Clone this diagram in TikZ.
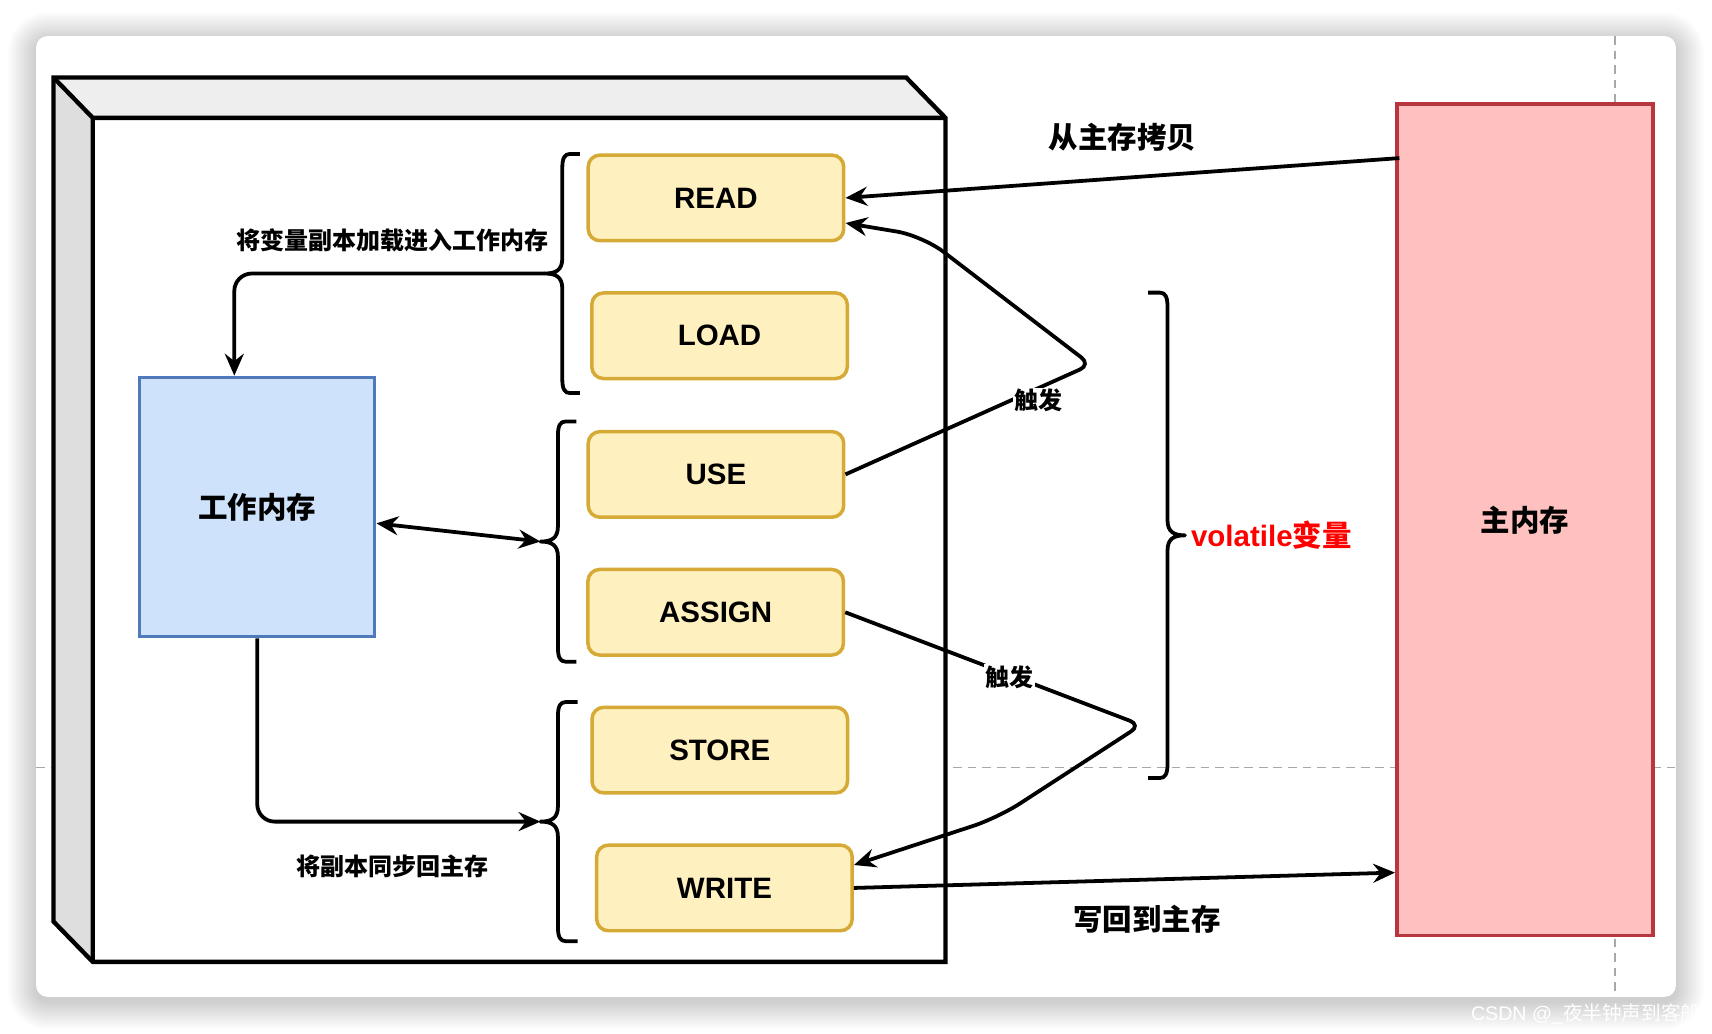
\documentclass[tikz,border=0pt]{standalone}
\usepackage{fontspec}
\setmainfont{Liberation Sans}
\newfontfamily\cjk{Noto Sans CJK SC}
\usetikzlibrary{arrows.meta,calc}
\definecolor{bluefill}{HTML}{CFE2FC}
\definecolor{bluedraw}{HTML}{5079B9}
\definecolor{yfill}{HTML}{FFF0BF}
\definecolor{ydraw}{HTML}{D6AA36}
\definecolor{rfill}{HTML}{FFC0C0}
\definecolor{rdraw}{HTML}{B8373E}
\definecolor{guide}{HTML}{A8A8A8}
\definecolor{topface}{HTML}{EEEEEE}
\definecolor{sideface}{HTML}{DEDEDE}
\newcommand\fsbig{\fontsize{20.25}{24}\selectfont}
\newcommand\fssmall{\fontsize{16.5}{20}\selectfont}
% curly bracket: #1 end x, #2 line x, #3 top y, #4 bottom y, #5 direction (+1 opens right, -1 opens left)
\newcommand\mybrace[5]{%
  \pgfmathsetmacro\ym{(#3+#4)/2}%
  \draw[bracepath] (#1,#3) -- ({#2+(#5)*7},#3) .. controls ({#2+(#5)*2},#3) and (#2,{#3+4}) .. (#2,{#3+13})
    -- (#2,{\ym-14}) .. controls (#2,{\ym-3}) and ({#2-(#5)*6},\ym) .. ({#2-(#5)*16},\ym)
    .. controls ({#2-(#5)*6},\ym) and (#2,{\ym+3}) .. (#2,{\ym+14})
    -- (#2,{#4-13}) .. controls (#2,{#4-4}) and ({#2+(#5)*2},#4) .. ({#2+(#5)*7},#4) -- (#1,#4);%
}
\begin{document}
\begin{tikzpicture}[x=0.75pt,y=-0.75pt,
  opbox/.style={draw=ydraw,fill=yfill,line width=2.4pt,rounded corners=8pt,minimum width=175.5pt,minimum height=58.8pt,inner sep=0pt,font=\fsbig\bfseries},
  conn/.style={line width=2.6pt,draw=black},
  tip/.style={-{Stealth[length=15pt,width=13pt,inset=5pt]}},
  dtip/.style={{Stealth[length=15pt,width=13pt,inset=5pt]}-{Stealth[length=15pt,width=13pt,inset=5pt]}},
  cnlabel/.style={font=\cjk\fssmall\bfseries,inner sep=1pt},
  biglabel/.style={font=\cjk\fsbig\bfseries,inner sep=0pt},
  bracepath/.style={line width=2.6pt,line cap=butt,line join=round},
  guideline/.style={draw=guide,dash pattern=on 6pt off 4pt}
]
\useasboundingbox (0,0) rectangle (1568,947);
\fill[white] (0,0) rectangle (1568,947);
% card shadow and card
\foreach \i in {1,...,16}{%
  \pgfmathsetmacro\d{1.6*\i}%
  \pgfmathsetmacro\rr{(11+\d)*0.75}%
  \fill[black,opacity=0.011,rounded corners=\rr pt] ({33-\d},{33-\d+4}) rectangle ({1535+\d},{913+\d+4});
}
\fill[white,rounded corners=8pt] (33,33) rectangle (1535,913);
% guides
\draw[guideline,line width=1pt] (33,703) -- (1535,703);
\draw[guideline,line width=1.4pt] (1479,33) -- (1479,913);
% cube container
\fill[sideface] (49,71) -- (85,108) -- (85,881) -- (49,844) -- cycle;
\fill[topface] (49,71) -- (830,71) -- (866,108) -- (85,108) -- cycle;
\fill[white] (85,108) rectangle (866,881);
\draw[line width=3pt,line join=miter] (49,71) -- (830,71) -- (866,108) -- (866,881) -- (85,881) -- (49,844) -- cycle;
\draw[line width=3pt] (49,71) -- (85,108) -- (866,108) (85,108) -- (85,881);
% operation boxes
\node[opbox] (read) at (655.75,181.25) {READ};
\node[opbox] (load) at (659,307.5) {LOAD};
\node[opbox] (use) at (655.75,434.5) {USE};
\node[opbox] (assign) at (655.5,560.75) {ASSIGN};
\node[opbox] (store) at (659.25,687) {STORE};
\node[opbox] (write) at (663.5,813.25) {WRITE};
% memories
\node[draw=bluedraw,fill=bluefill,line width=2.2pt,minimum width=161.6pt,minimum height=178.2pt,inner sep=0pt,font=\cjk\fsbig\bfseries] (work) at (235.6,464.3) {工作内存};
\node[draw=rdraw,fill=rfill,line width=2.6pt,minimum width=176pt,minimum height=571pt,inner sep=0pt,font=\cjk\fsbig\bfseries] (main) at (1396.75,476.2) {主内存};
% braces
\mybrace{531}{515}{141}{360}{1}
\mybrace{528}{511}{386}{606}{1}
\mybrace{529}{511}{643}{862}{1}
\mybrace{1051.5}{1069.3}{268}{712.6}{-1}
\coordinate (b1) at (499,250.5);
\coordinate (b2) at (495,496);
\coordinate (b3) at (495,752.5);
\coordinate (b4) at (1085.3,490.3);
% connectors
\draw[conn,tip,rounded corners=12pt] (b1) -| ($(work.north)+(-21,0)$);
\draw[conn,dtip] ($(work.east)+(0,15)$) -- (b2);
\draw[conn,tip,rounded corners=12pt] (work.south) |- (b3);
\draw[conn,tip] ($(main.north west)+(4,51)$) -- (read.east);
\draw[conn,tip] (write.east) -- ($(main.west)+(0,323)$);
\draw[conn,tip] (use.east) [rounded corners=8pt] -- (999,334) [rounded corners=18pt] -- (845,216) -- ($(read.east)+(0,23)$);
\draw[conn,tip] (assign.east) [rounded corners=8pt] -- (1045,664) [rounded corners=18pt] -- (914,749) -- ($(write.east)+(0,-21)$);
% labels
\node[cnlabel,fill=white] (t1) at (951,367) {触发};
\node[cnlabel,fill=white] (t2) at (925,620) {触发};
\node[biglabel] (l1) at (1028,126) {从主存拷贝};
\node[biglabel] (l2) at (1050.5,842) {写回到主存};
\node[cnlabel] (l3) at (359.6,219.7) {将变量副本加载进入工作内存};
\node[cnlabel] (l4) at (359.7,793) {将副本同步回主存};
\node[anchor=west,text=red,inner sep=0pt,font=\fsbig\bfseries] (vol) at (b4) {\hspace{4pt}volatile{\cjk 变量}};
\node[anchor=base west,text=white,inner sep=0pt,font=\fontsize{13.5}{16}\selectfont] (wm) at (1347,935) {CSDN @\_{\cjk 夜半钟声到客船}};
\end{tikzpicture}
\end{document}
